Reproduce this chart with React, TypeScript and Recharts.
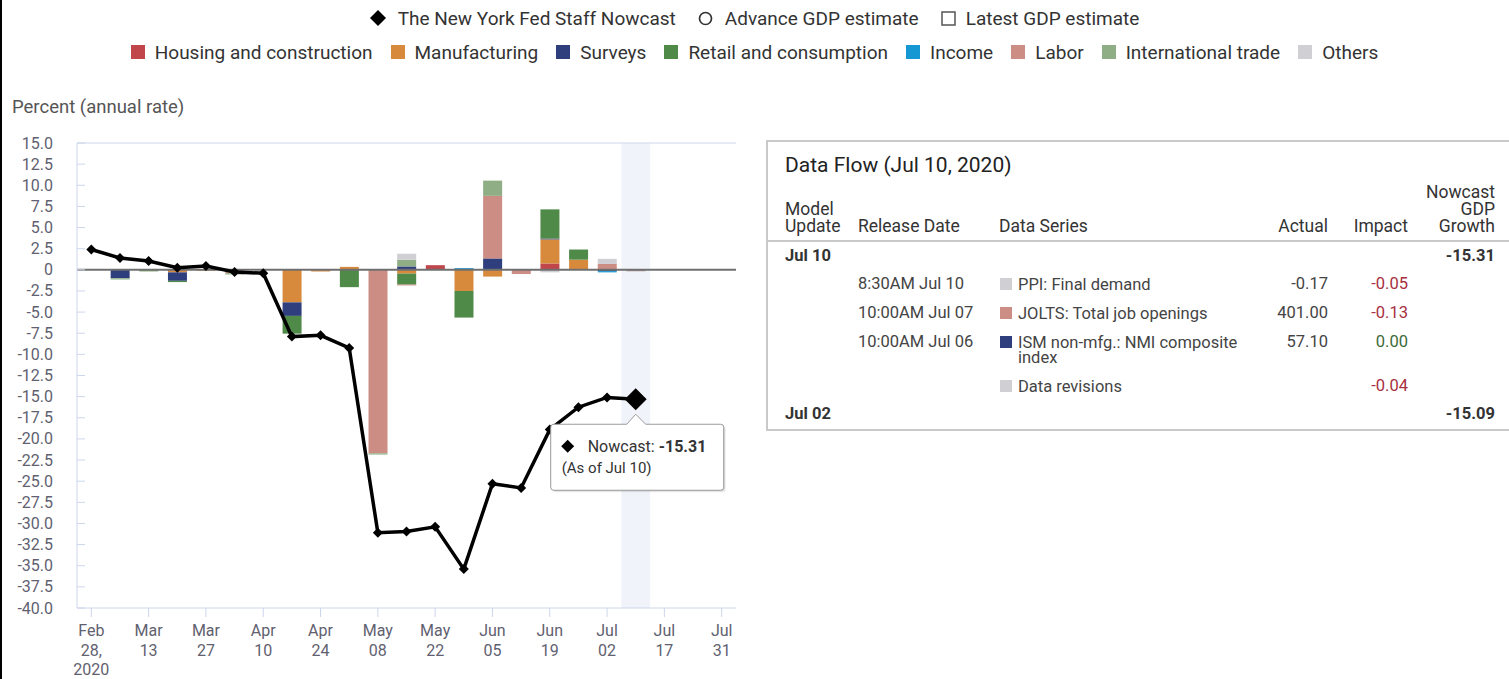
import React from 'react';
import { ComposedChart, Bar, Line, XAxis, YAxis, ReferenceLine, ReferenceArea } from 'recharts';

// ---------- DATA ----------
const weeks = [
  'Feb 28', 'Mar 06', 'Mar 13', 'Mar 20', 'Mar 27', 'Apr 03', 'Apr 10', 'Apr 17', 'Apr 24',
  'May 01', 'May 08', 'May 15', 'May 22', 'May 29', 'Jun 05', 'Jun 12', 'Jun 19', 'Jun 26',
  'Jul 02', 'Jul 10', 'Jul 17', 'Jul 24', 'Jul 31',
];
const tickLabels: Record<string, string[]> = {
  'Feb 28': ['Feb', '28,', '2020'], 'Mar 13': ['Mar', '13'], 'Mar 27': ['Mar', '27'],
  'Apr 10': ['Apr', '10'], 'Apr 24': ['Apr', '24'], 'May 08': ['May', '08'], 'May 22': ['May', '22'],
  'Jun 05': ['Jun', '05'], 'Jun 19': ['Jun', '19'], 'Jul 02': ['Jul', '02'], 'Jul 17': ['Jul', '17'],
  'Jul 31': ['Jul', '31'],
};
const yTicks = [15, 12.5, 10, 7.5, 5, 2.5, 0, -2.5, -5, -7.5, -10, -12.5, -15, -17.5, -20, -22.5, -25, -27.5, -30, -32.5, -35, -37.5, -40];

const nowcast = [2.4, 1.4, 1.05, 0.25, 0.45, -0.25, -0.4, -7.9, -7.75, -9.25, -31.1, -30.95, -30.4, -35.4, -25.3, -25.8, -18.9, -16.25, -15.09, -15.31];
const housing = [0, 0, 0, -0.1, 0, 0, 0, 0, -0.05, 0, 0, 0, 0.55, 0, 0, 0, 0.75, 0.1, 0, 0];
const manufacturing = [0, 0, 0, -0.2, -0.1, 0, 0, -3.85, -0.15, 0.35, 0, -0.45, 0, -2.5, -0.8, 0, 2.85, 1.1, 0, 0];
const surveys = [0, -1.0, 0, -1.0, 0, 0, 0, -1.6, 0, 0, 0, 0.4, 0, 0, 1.35, 0, 0.1, 0, -0.15, 0];
const retail = [0, 0, 0, -0.15, 0, 0, 0, -2.1, 0, -2.05, 0, -1.3, 0, -3.15, 0, 0, 3.45, 1.2, 0, 0];
const income = [0, 0, 0, 0, 0, 0, 0, 0, 0, 0, 0, 0, 0, 0.2, 0, 0, 0, 0, -0.15, 0];
const labor = [0, 0, 0, 0, 0, -0.4, 0, 0, 0, 0, -21.7, -0.1, 0, 0, 7.4, -0.5, 0, 0, 0.7, -0.13];
const intlTrade = [0, -0.15, -0.2, 0, 0, -0.15, 0, 0, 0, 0, -0.15, 0.8, 0, 0, 1.8, 0, 0, 0, 0, 0];
const others = [0, 0, 0, 0, 0, 0, 0, 0, 0, 0, 0, 0.7, 0, 0, 0, 0, -0.3, 0, 0.6, -0.09];

const categories = [
  { key: 'housing', name: 'Housing and construction', color: '#c0464b', values: housing },
  { key: 'manufacturing', name: 'Manufacturing', color: '#d88a3c', values: manufacturing },
  { key: 'surveys', name: 'Surveys', color: '#2f3f7d', values: surveys },
  { key: 'retail', name: 'Retail and consumption', color: '#4f8a48', values: retail },
  { key: 'income', name: 'Income', color: '#1597d4', values: income },
  { key: 'labor', name: 'Labor', color: '#cc8e84', values: labor },
  { key: 'intl', name: 'International trade', color: '#8fae85', values: intlTrade },
  { key: 'others', name: 'Others', color: '#cfcfd4', values: others },
];

const data = weeks.map((w, i) => {
  const row: any = { week: w, nowcast: i < nowcast.length ? nowcast[i] : null };
  categories.forEach((c) => { row[c.key] = i < c.values.length ? c.values[i] : null; });
  return row;
});
const lastIdx = nowcast.length - 1;
const highlightWeek = weeks[lastIdx];

// table data
const tableTitle = 'Data Flow (Jul 10, 2020)';
const releases = [
  { time: '8:30AM Jul 10', series: 'PPI: Final demand', color: '#cfcfd4', actual: '-0.17', impact: '-0.05' },
  { time: '10:00AM Jul 07', series: 'JOLTS: Total job openings', color: '#cc8e84', actual: '401.00', impact: '-0.13' },
  { time: '10:00AM Jul 06', series: 'ISM non-mfg.: NMI composite index', color: '#2f3f7d', actual: '57.10', impact: '0.00' },
  { time: '', series: 'Data revisions', color: '#cfcfd4', actual: '', impact: '-0.04' },
];
const updates = [{ date: 'Jul 10', growth: '-15.31' }, { date: 'Jul 02', growth: '-15.09' }];

const FONT = 'Roboto, "Noto Sans", sans-serif';
const AXIS = '#ccd6eb';
const LABEL = '#5f6170';

// ---------- CUSTOM SHAPES ----------
const XTick = (props: any) => {
  const { x, y, payload } = props;
  const lines = tickLabels[payload.value] || [payload.value];
  return (
    <g>
      {lines.map((l, i) => (
        <text key={i} x={x} y={y + 19 + i * 19.5} textAnchor="middle" fontSize={16} fill={LABEL} fontFamily={FONT}>{l}</text>
      ))}
    </g>
  );
};

const YTickLeft = (props: any) => {
  const { x, y, payload } = props;
  const v = payload.value;
  const label = v === 0 ? '0' : v.toFixed(1);
  return (
    <g>
      <text x={x} y={y + 5.5} textAnchor="end" fontSize={16} fill={LABEL} fontFamily={FONT}>{label}</text>
      <line x1={x + 24} x2={x + 32} y1={y} y2={y} stroke={AXIS} strokeWidth={1} />
    </g>
  );
};

const YTickRight = (props: any) => {
  const { x, y } = props;
  return <line x1={x - 8} x2={x} y1={y} y2={y} stroke={AXIS} strokeWidth={1} />;
};

const NowcastDot = (props: any) => {
  const { cx, cy, index, payload } = props;
  if (cx == null || cy == null || payload == null || payload.nowcast == null) return <g key={`d${index}`} />;
  const last = index === lastIdx;
  const r = last ? 11 : 5;
  const diamond = (x: number, y: number, s: number) => `M${x},${y - s} L${x + s},${y} L${x},${y + s} L${x - s},${y} Z`;
  if (!last) {
    return <path key={`d${index}`} d={diamond(cx, cy, r)} fill="#000" />;
  }
  const bx1 = cx - 85, bx2 = cx + 88, by1 = cy + 25, by2 = cy + 91;
  const box = `M${bx1 + 3},${by1} L${cx - 9},${by1} L${cx},${cy + 15} L${cx + 10},${by1} L${bx2 - 3},${by1} Q${bx2},${by1} ${bx2},${by1 + 3} L${bx2},${by2 - 3} Q${bx2},${by2} ${bx2 - 3},${by2} L${bx1 + 3},${by2} Q${bx1},${by2} ${bx1},${by2 - 3} L${bx1},${by1 + 3} Q${bx1},${by1} ${bx1 + 3},${by1} Z`;
  return (
    <g key={`d${index}`}>
      <path d={diamond(cx, cy, r)} fill="#000" />
      <path d={box} fill="#000" opacity={0.08} transform="translate(2,2)" />
      <path d={box} fill="#000" opacity={0.08} transform="translate(1,1)" />
      <path d={box} fill="#ffffff" stroke="#9a9a9a" strokeWidth={1} />
      <path d={diamond(cx - 68, cy + 47, 6.5)} fill="#000" />
      <text x={cx - 48} y={cy + 52.5} fontSize={16} fill="#333" fontFamily={FONT}>
        Nowcast: <tspan fontWeight="bold">{payload.nowcast.toFixed(2)}</tspan>
      </text>
      <text x={cx - 74} y={cy + 74} fontSize={15} fill="#333" fontFamily={FONT}>(As of {payload.week})</text>
    </g>
  );
};

// ---------- LEGEND ----------
const LegendTop = () => (
  <div style={{ position: 'absolute', left: 0, top: 6, width: 1509, fontFamily: FONT, fontSize: 19, color: '#333' }}>
    <div style={{ display: 'flex', justifyContent: 'center', alignItems: 'center', height: 24, gap: 22 }}>
      <span style={{ display: 'flex', alignItems: 'center' }}>
        <svg width={16} height={16} style={{ marginRight: 12 }}><path d="M8,0 L16,8 L8,16 L0,8 Z" fill="#000" /></svg>
        The New York Fed Staff Nowcast
      </span>
      <span style={{ display: 'flex', alignItems: 'center' }}>
        <svg width={15} height={15} style={{ marginRight: 12 }}><circle cx={7.5} cy={7.5} r={6} fill="none" stroke="#333" strokeWidth={1.7} /></svg>
        Advance GDP estimate
      </span>
      <span style={{ display: 'flex', alignItems: 'center' }}>
        <svg width={15} height={15} style={{ marginRight: 10 }}><rect x={1} y={1} width={13} height={13} fill="none" stroke="#555" strokeWidth={1.5} /></svg>
        Latest GDP estimate
      </span>
    </div>
    <div style={{ display: 'flex', justifyContent: 'center', alignItems: 'center', height: 24, marginTop: 10, gap: 18 }}>
      {categories.map((c) => (
        <span key={c.key} style={{ display: 'flex', alignItems: 'center' }}>
          <span style={{ display: 'inline-block', width: 14, height: 14, background: c.color, marginRight: 10 }} />
          {c.name}
        </span>
      ))}
    </div>
  </div>
);

// ---------- TABLE ----------
const T = (p: { x: number; y: number; children: any; right?: boolean; bold?: boolean; size?: number; color?: string }) => (
  <div style={{
    position: 'absolute', top: p.y - 10, height: 20, lineHeight: '20px', whiteSpace: 'nowrap',
    ...(p.right ? { right: 1509 - p.x, textAlign: 'right' } : { left: p.x }),
    fontWeight: p.bold ? 'bold' : 'normal', fontSize: p.size || 16.5, color: p.color || '#444',
  } as any}>{p.children}</div>
);

const DataTable = () => {
  const rowYs = [284, 313, 342, 386];
  const H = 17.5;
  return (
    <div style={{ position: 'absolute', left: 0, top: 0, width: 1509, height: 679, fontFamily: FONT }}>
      <div style={{ position: 'absolute', left: 766, top: 140, width: 780, height: 287, border: '2px solid #c9c9c9' }} />
      <div style={{ position: 'absolute', left: 767, top: 240, width: 760, height: 2, background: '#c9c9c9' }} />
      <T x={785} y={165} size={21} color="#222">{tableTitle}</T>
      <T x={785} y={209} size={H} color="#333">Model</T>
      <T x={785} y={226} size={H} color="#333">Update</T>
      <T x={858} y={226} size={H} color="#333">Release Date</T>
      <T x={999} y={226} size={H} color="#333">Data Series</T>
      <T x={1328} y={226} size={H} color="#333" right>Actual</T>
      <T x={1408} y={226} size={H} color="#333" right>Impact</T>
      <T x={1495} y={192} size={H} color="#333" right>Nowcast</T>
      <T x={1495} y={209} size={H} color="#333" right>GDP</T>
      <T x={1495} y={226} size={H} color="#333" right>Growth</T>
      <T x={785} y={256} bold color="#333">{updates[0].date}</T>
      <T x={1495} y={256} bold color="#333" right>{updates[0].growth}</T>
      {releases.map((r, i) => (
        <React.Fragment key={i}>
          {r.time && <T x={858} y={rowYs[i]}>{r.time}</T>}
          <div style={{ position: 'absolute', left: 1000, top: rowYs[i] - 6, width: 12, height: 12, background: r.color }} />
          <div style={{ position: 'absolute', left: 1018, top: rowYs[i] - 7.5, width: 228, lineHeight: '15px', fontSize: 16.5, color: '#444' }}>
            {r.series}
          </div>
          {r.actual && <T x={1328} y={rowYs[i]} right>{r.actual}</T>}
          <T x={1408} y={rowYs[i]} right color={r.impact.startsWith('-') ? '#a8303f' : '#3e6b3a'}>{r.impact}</T>
        </React.Fragment>
      ))}
      <T x={785} y={414} bold color="#333">{updates[1].date}</T>
      <T x={1495} y={414} bold color="#333" right>{updates[1].growth}</T>
    </div>
  );
};

export default function App() {
  return (
    <div style={{ position: 'absolute', left: 0, top: 0, width: 1509, height: 679, background: '#fff', overflow: 'hidden', fontFamily: FONT }}>
      <div style={{ position: 'absolute', left: 0, top: 0, width: 2, height: 679, background: '#000' }} />
      <LegendTop />
      <div style={{ position: 'absolute', left: 12, top: 96, fontSize: 18.5, color: '#555', lineHeight: '22px' }}>Percent (annual rate)</div>
      <div style={{ position: 'absolute', left: 0, top: 0 }}>
        <ComposedChart width={760} height={679} data={data} stackOffset="sign"
          margin={{ top: 143, right: 24, bottom: 0, left: 0 }} barSize={19}>
          <XAxis dataKey="week" ticks={Object.keys(tickLabels)} interval={0} height={71}
            tick={<XTick />} tickSize={9} tickMargin={0} tickLine={{ stroke: AXIS }} axisLine={{ stroke: AXIS }} />
          <YAxis yAxisId="l" domain={[-40, 15]} ticks={yTicks} interval={0} width={77} type="number"
            tick={<YTickLeft />} tickLine={false} tickSize={0} tickMargin={24} axisLine={{ stroke: AXIS }} />
          <YAxis yAxisId="r" orientation="right" domain={[-40, 15]} ticks={yTicks} interval={0} width={0} type="number"
            tick={<YTickRight />} tickLine={false} tickSize={0} tickMargin={0} axisLine={{ stroke: AXIS }} />
          <ReferenceArea yAxisId="l" x1={highlightWeek} x2={highlightWeek} fill="#e6ecf6" fillOpacity={0.6} stroke="none" />
          <ReferenceLine yAxisId="l" y={15} stroke={AXIS} />
          {categories.map((c) => (
            <Bar key={c.key} yAxisId="l" dataKey={c.key} name={c.name} stackId="a" fill={c.color} isAnimationActive={false} />
          ))}
          <ReferenceLine yAxisId="l" y={0} stroke="#6f6f6f" strokeWidth={2} />
          <Line yAxisId="l" dataKey="nowcast" stroke="#000" strokeWidth={3.5} dot={<NowcastDot />} activeDot={false}
            isAnimationActive={false} connectNulls={false} />
        </ComposedChart>
      </div>
      <DataTable />
    </div>
  );
}
